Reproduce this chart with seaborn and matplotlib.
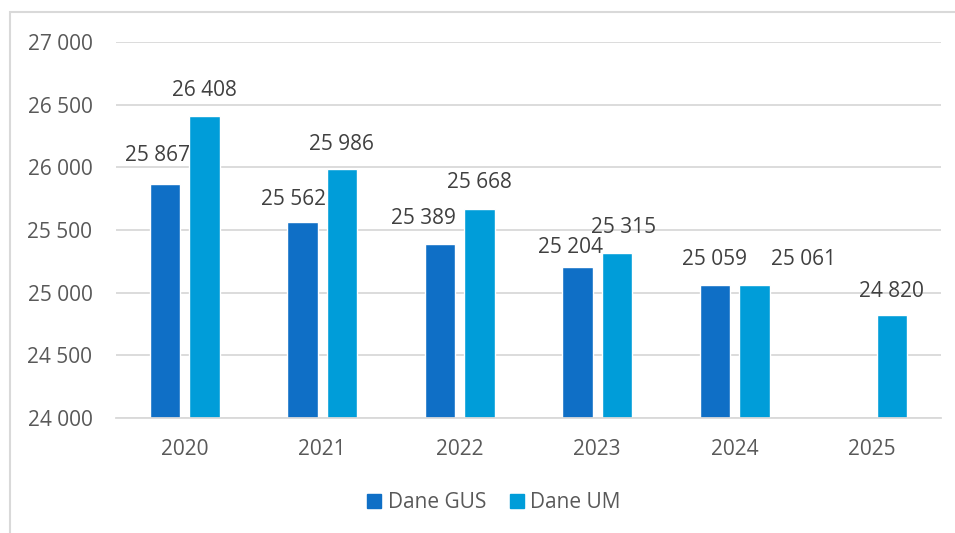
import pandas as pd
import matplotlib.pyplot as plt
import matplotlib.patches as mpatches
import seaborn as sns
import numpy as np

# Data
years = ['2020', '2021', '2022', '2023', '2024', '2025']
dane_gus = [25867, 25562, 25389, 25204, 25059, np.nan]
dane_um = [26408, 25986, 25668, 25315, 25061, 24820]
series = ['Dane GUS', 'Dane UM']

colors = {'Dane GUS': '#0F6FC6', 'Dane UM': '#009DD9'}

# label nudges in pixels (dx, dy above bar top), Excel-style placement
nudges = {
    'Dane GUS': [(-7, 29), (-9, 23), (-17, 25), (-7, 20), (0, 26), (0, 25)],
    'Dane UM': [(0, 26), (-1, 25), (0, 26), (7, 26), (49, 26), (-1, 24)],
}

df = pd.DataFrame({'year': years, 'Dane GUS': dane_gus, 'Dane UM': dane_um})
df_long = df.melt(id_vars='year', var_name='series', value_name='value')

sns.set_theme(style='white')
plt.rcParams['font.family'] = ['Open Sans', 'DejaVu Sans']

fig = plt.figure(figsize=(9.55, 5.33), dpi=100)
ax = fig.add_axes([116 / 955, 1 - 418 / 533, 825 / 955, 376 / 533])

sns.barplot(data=df_long, x='year', y='value', hue='series', hue_order=series,
            order=years, palette=colors, width=0.575, gap=0.227,
            saturation=1, ax=ax, legend=False)

ax.set_ylim(24000, 27000)
ax.set_yticks(np.arange(24000, 27001, 500))
ax.set_yticklabels(['{:,.0f}'.format(v).replace(',', ' ') for v in ax.get_yticks()])
ax.set_xlabel('')
ax.set_ylabel('')
ax.grid(axis='y', color='#D9D9D9', linewidth=1.3)
ax.set_axisbelow(True)
for side in ['left', 'right', 'top']:
    ax.spines[side].set_visible(False)
ax.spines['bottom'].set_color('#D9D9D9')
ax.spines['bottom'].set_linewidth(1.3)
ax.tick_params(axis='both', length=0, labelsize=15, labelcolor='#595959')
ax.tick_params(axis='y', pad=17)
ax.tick_params(axis='x', pad=15)

# data labels
for name, container in zip(series, ax.containers):
    vals = df[name].tolist()
    idx = [i for i, v in enumerate(vals) if not np.isnan(v)]
    for bar, i in zip(container, idx):
        dx, dy = nudges[name][i]
        x = bar.get_x() + bar.get_width() / 2
        ax.annotate('{:,.0f}'.format(vals[i]).replace(',', ' '), xy=(x, vals[i]),
                    xytext=(dx, dy), textcoords='offset pixels',
                    ha='center', va='center', fontsize=15, color='#404040',
                    annotation_clip=False)

# legend at the bottom
handles = [mpatches.Patch(color=colors[s], label=s) for s in series]
fig.legend(handles=handles, loc='center', bbox_to_anchor=(494 / 955, 1 - 503 / 533),
           ncol=2, frameon=False, fontsize=15, labelcolor='#595959',
           handlelength=0.67, handleheight=0.67, handletextpad=0.3,
           columnspacing=1.15)

# chart area border (only left and top edges visible in the crop)
fig.patches.append(mpatches.Rectangle((10 / 955, -0.1), 1.2, 1 - 12 / 533 + 0.1,
                                      transform=fig.transFigure, fill=False,
                                      edgecolor='#D9D9D9', linewidth=1.5))

fig.savefig('out.png', dpi=100)
